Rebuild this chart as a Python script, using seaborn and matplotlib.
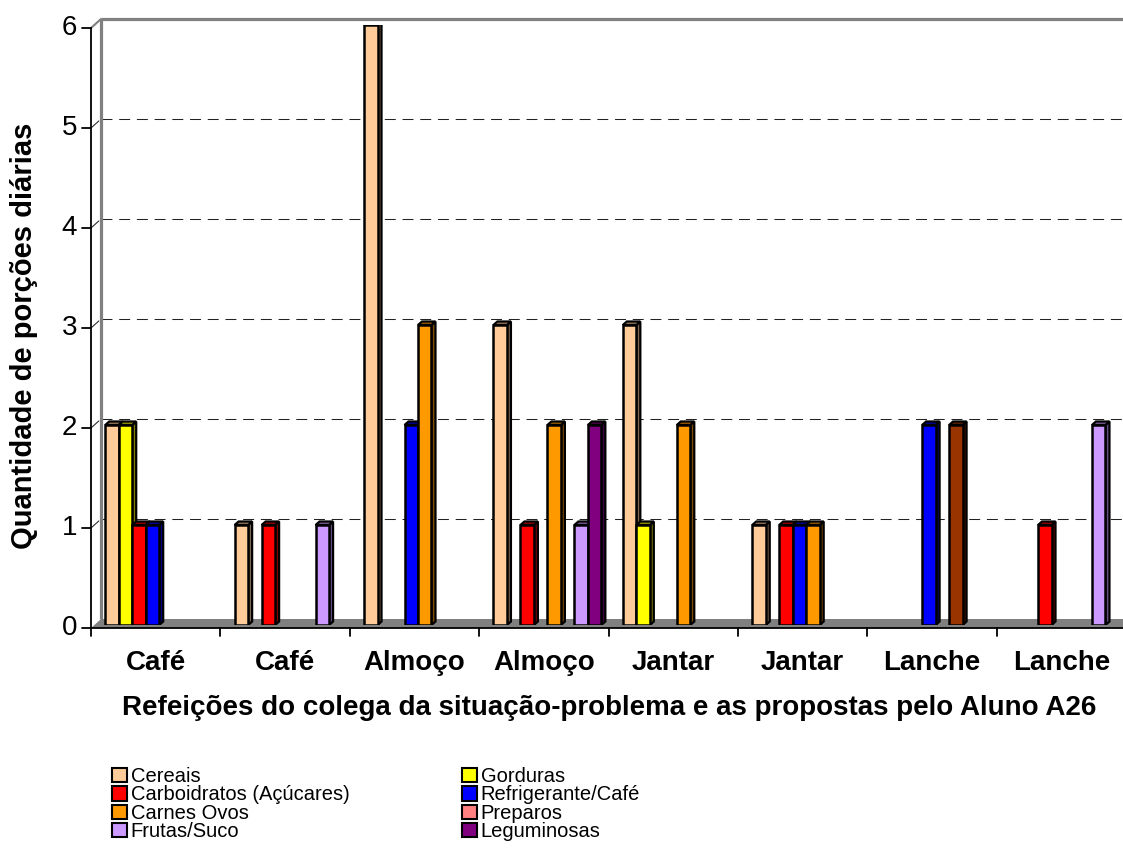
import numpy as np
import pandas as pd
import matplotlib
matplotlib.use("Agg")
import matplotlib.pyplot as plt
from matplotlib.patches import Polygon, Patch, Rectangle
from matplotlib.colors import to_rgb
import seaborn as sns

# ---- data -------------------------------------------------------------
meals = ["Café", "Café", "Almoço", "Almoço", "Jantar", "Jantar", "Lanche", "Lanche"]
groups = ["Cereais", "Gorduras", "Carboidratos (Açúcares)", "Refrigerante/Café",
          "Carnes Ovos", "Preparos", "Frutas/Suco", "Leguminosas"]

cereais = [2, 1, 6, 3, 3, 1, 0, 0]
gorduras = [2, 0, 0, 0, 1, 0, 0, 0]
carboidratos = [1, 1, 0, 1, 0, 1, 0, 1]
refrigerante = [1, 0, 2, 0, 0, 1, 2, 0]
carnes = [0, 0, 3, 2, 2, 1, 0, 0]
preparos = [0, 0, 0, 0, 0, 0, 2, 0]
frutas = [0, 1, 0, 1, 0, 0, 0, 2]
leguminosas = [0, 0, 0, 2, 0, 0, 0, 0]

group_colors = ["#FFCC99", "#FFFF00", "#FF0000", "#0000FF",
                "#FF9900", "#FF8080", "#CC99FF", "#800080"]
# single bar painted with its own fill: (group, meal index) -> colour
point_colors = {("Preparos", 6): "#993300"}

y_ticks = [0, 1, 2, 3, 4, 5, 6]
x_title = "Refeições do colega da situação-problema e as propostas pelo Aluno A26"
y_title = "Quantidade de porções diárias"

# ---- style ------------------------------------------------------------
sns.set_theme(style="white")
plt.rcParams["font.family"] = ["Liberation Sans", "DejaVu Sans"]
plt.rcParams["text.color"] = "black"
plt.rcParams["axes.labelcolor"] = "black"

W, H = 1123, 868
fig = plt.figure(figsize=(W / 100, H / 100), dpi=100)
fig.patch.set_facecolor("white")

# axes = plane in which the bars stand
ax_left, ax_right = 94.5, 94.5 + 8 * 129.4
ax_zero, ax_six = 625.0, 25.0
ax = fig.add_axes([ax_left / W, (H - ax_zero) / H,
                   (ax_right - ax_left) / W, (ax_zero - ax_six) / H])
ax.set_facecolor("none")

series = dict(zip(groups, [cereais, gorduras, carboidratos, refrigerante,
                           carnes, preparos, frutas, leguminosas]))
rows = [(i, g, v) for g, vals in series.items() for i, v in enumerate(vals) if v > 0]
df = pd.DataFrame(rows, columns=["refeicao", "grupo", "porcoes"])

group_width = 0.834
sns.barplot(data=df, x="refeicao", y="porcoes", hue="grupo",
            order=list(range(len(meals))), hue_order=groups,
            palette=dict(zip(groups, group_colors)), width=group_width,
            dodge=True, errorbar=None, saturation=1, edgecolor="black",
            linewidth=1.8, legend=False, ax=ax)

ax.set_xlim(-0.5, len(meals) - 0.5)
ax.set_ylim(0, 6)
ax.set_xticks([])
ax.set_yticks([])
for s in ax.spines.values():
    s.set_visible(False)

# pixel -> data conversion
PX = len(meals) / (ax_right - ax_left)
PY = 6 / (ax_zero - ax_six)


def front(x, y):
    return (x - 3.5 * PX, y - 3 * PY)


def back(x, y):
    return (x + 6.5 * PX, y + 6 * PY)


# ---- 3D faces for the bars --------------------------------------------
bar_w = group_width / len(groups)
bars = sorted([p for p in ax.patches if isinstance(p, Rectangle)], key=lambda p: p.get_x())
dx, dy = 4 * PX, 3.5 * PY
for r, p in enumerate(bars):
    x0, w, h = p.get_x(), p.get_width(), p.get_height()
    cx = x0 + w / 2
    i = int(round(cx))
    slot = int(round((cx - i + group_width / 2) / bar_w - 0.5))
    key = (groups[slot], i)
    if key in point_colors:
        p.set_facecolor(point_colors[key])
    base = np.array(to_rgb(p.get_facecolor()))
    z = 3 + r * 0.01
    p.set_zorder(z)
    p.set_joinstyle("miter")
    x1 = x0 + w
    side = Polygon([(x1, 0), (x1 + dx, dy), (x1 + dx, h + dy), (x1, h)], closed=True,
                   facecolor=base * 0.5, edgecolor="black", lw=1.6, zorder=z - 0.005)
    top = Polygon([(x0, h), (x0 + dx, h + dy), (x1 + dx, h + dy), (x1, h)], closed=True,
                  facecolor=base * 0.6, edgecolor="black", lw=1.6, zorder=z - 0.005)
    ax.add_patch(side)
    ax.add_patch(top)

# ---- walls, floor and gridlines ---------------------------------------
xl, xr = -0.5, len(meals) + 0.5
dash = (0, (10.5, 6.5))
for v in y_ticks[1:-1]:
    bx0, by = back(xl, v)
    ax.plot([bx0, xr], [by, by], color="#222222", lw=0.75, ls=dash, zorder=0.5, clip_on=False)
    fx, fy = front(xl, v)
    ax.plot([fx, bx0], [fy, by], color="#222222", lw=0.75, ls=dash, zorder=0.5, clip_on=False)

gray = "#808080"
bx0, btop = back(xl, 6)
_, bbot = back(xl, 0)
ax.plot([bx0, xr], [btop, btop], color=gray, lw=2.3, zorder=0.6, clip_on=False,
        solid_capstyle="butt")
ax.plot([bx0, bx0], [bbot, btop], color=gray, lw=2.3, zorder=0.6, clip_on=False,
        solid_capstyle="butt")
fx, ftop = front(xl, 6)
ax.plot([fx, bx0], [ftop, btop], color=gray, lw=1.5, zorder=0.6, clip_on=False)

floor = Polygon([front(xl, 0), front(xr, 0), back(xr, 0), back(xl, 0)], closed=True,
                facecolor=gray, edgecolor="none", zorder=1, clip_on=False)
ax.add_patch(floor)

# ---- front axes -------------------------------------------------------
fx0, fy0 = front(xl, 0)
ax.plot([fx0, xr], [fy0, fy0], color="black", lw=1.3, zorder=6, clip_on=False)
ax.plot([fx0, fx0], [fy0, ftop], color="black", lw=1.3, zorder=6, clip_on=False)
tick_len = 8
for k in range(len(meals) + 1):
    tx, ty = front(k - 0.5, 0)
    ax.plot([tx, tx], [ty, ty - tick_len * PY], color="black", lw=1.3, zorder=6, clip_on=False)
for v in y_ticks:
    tx, ty = front(xl, v)
    ax.plot([tx - 9 * PX, tx], [ty, ty], color="black", lw=1.3, zorder=6, clip_on=False)
    ax.text(tx - 14 * PX, ty, str(v), ha="right", va="center", fontsize=20,
            color="black", clip_on=False)

for i, m in enumerate(meals):
    tx, _ = front(i, 0)
    ax.text(tx, (ax_zero - 670) * PY, m, ha="center", va="baseline", fontsize=20,
            fontweight="bold", color="black", clip_on=False)

ax.set_xlabel(x_title, fontsize=20, fontweight="bold", color="black")
ax.xaxis.label.set_va("baseline")
ax.xaxis.set_label_coords((609 - ax_left) / (ax_right - ax_left),
                          (ax_zero - 715) / (ax_zero - ax_six))
ax.set_ylabel(y_title, fontsize=21, fontweight="bold", color="black")
ax.yaxis.label.set_va("center")
ax.yaxis.set_label_coords((24 - ax_left) / (ax_right - ax_left),
                          (ax_zero - 336) / (ax_zero - ax_six))

# ---- legend (two columns) ---------------------------------------------
handles = [Patch(facecolor=c, edgecolor="black", lw=1.5) for c in group_colors]
col_a = [0, 2, 4, 6]
col_b = [1, 3, 5, 7]
legend_kw = dict(frameon=False, loc="upper left", borderpad=0,
                 borderaxespad=0, handlelength=0.72, handleheight=0.72,
                 handletextpad=0.2, labelspacing=-0.03, fontsize=14.5,
                 labelcolor="black")
leg_a = ax.legend([handles[j] for j in col_a], [groups[j] for j in col_a],
                  bbox_to_anchor=(112 / W, (H - 767) / H),
                  bbox_transform=fig.transFigure, **legend_kw)
ax.add_artist(leg_a)
ax.legend([handles[j] for j in col_b], [groups[j] for j in col_b],
          bbox_to_anchor=(462 / W, (H - 767) / H),
          bbox_transform=fig.transFigure, **legend_kw)

fig.savefig("out.png", dpi=100, facecolor="white")
